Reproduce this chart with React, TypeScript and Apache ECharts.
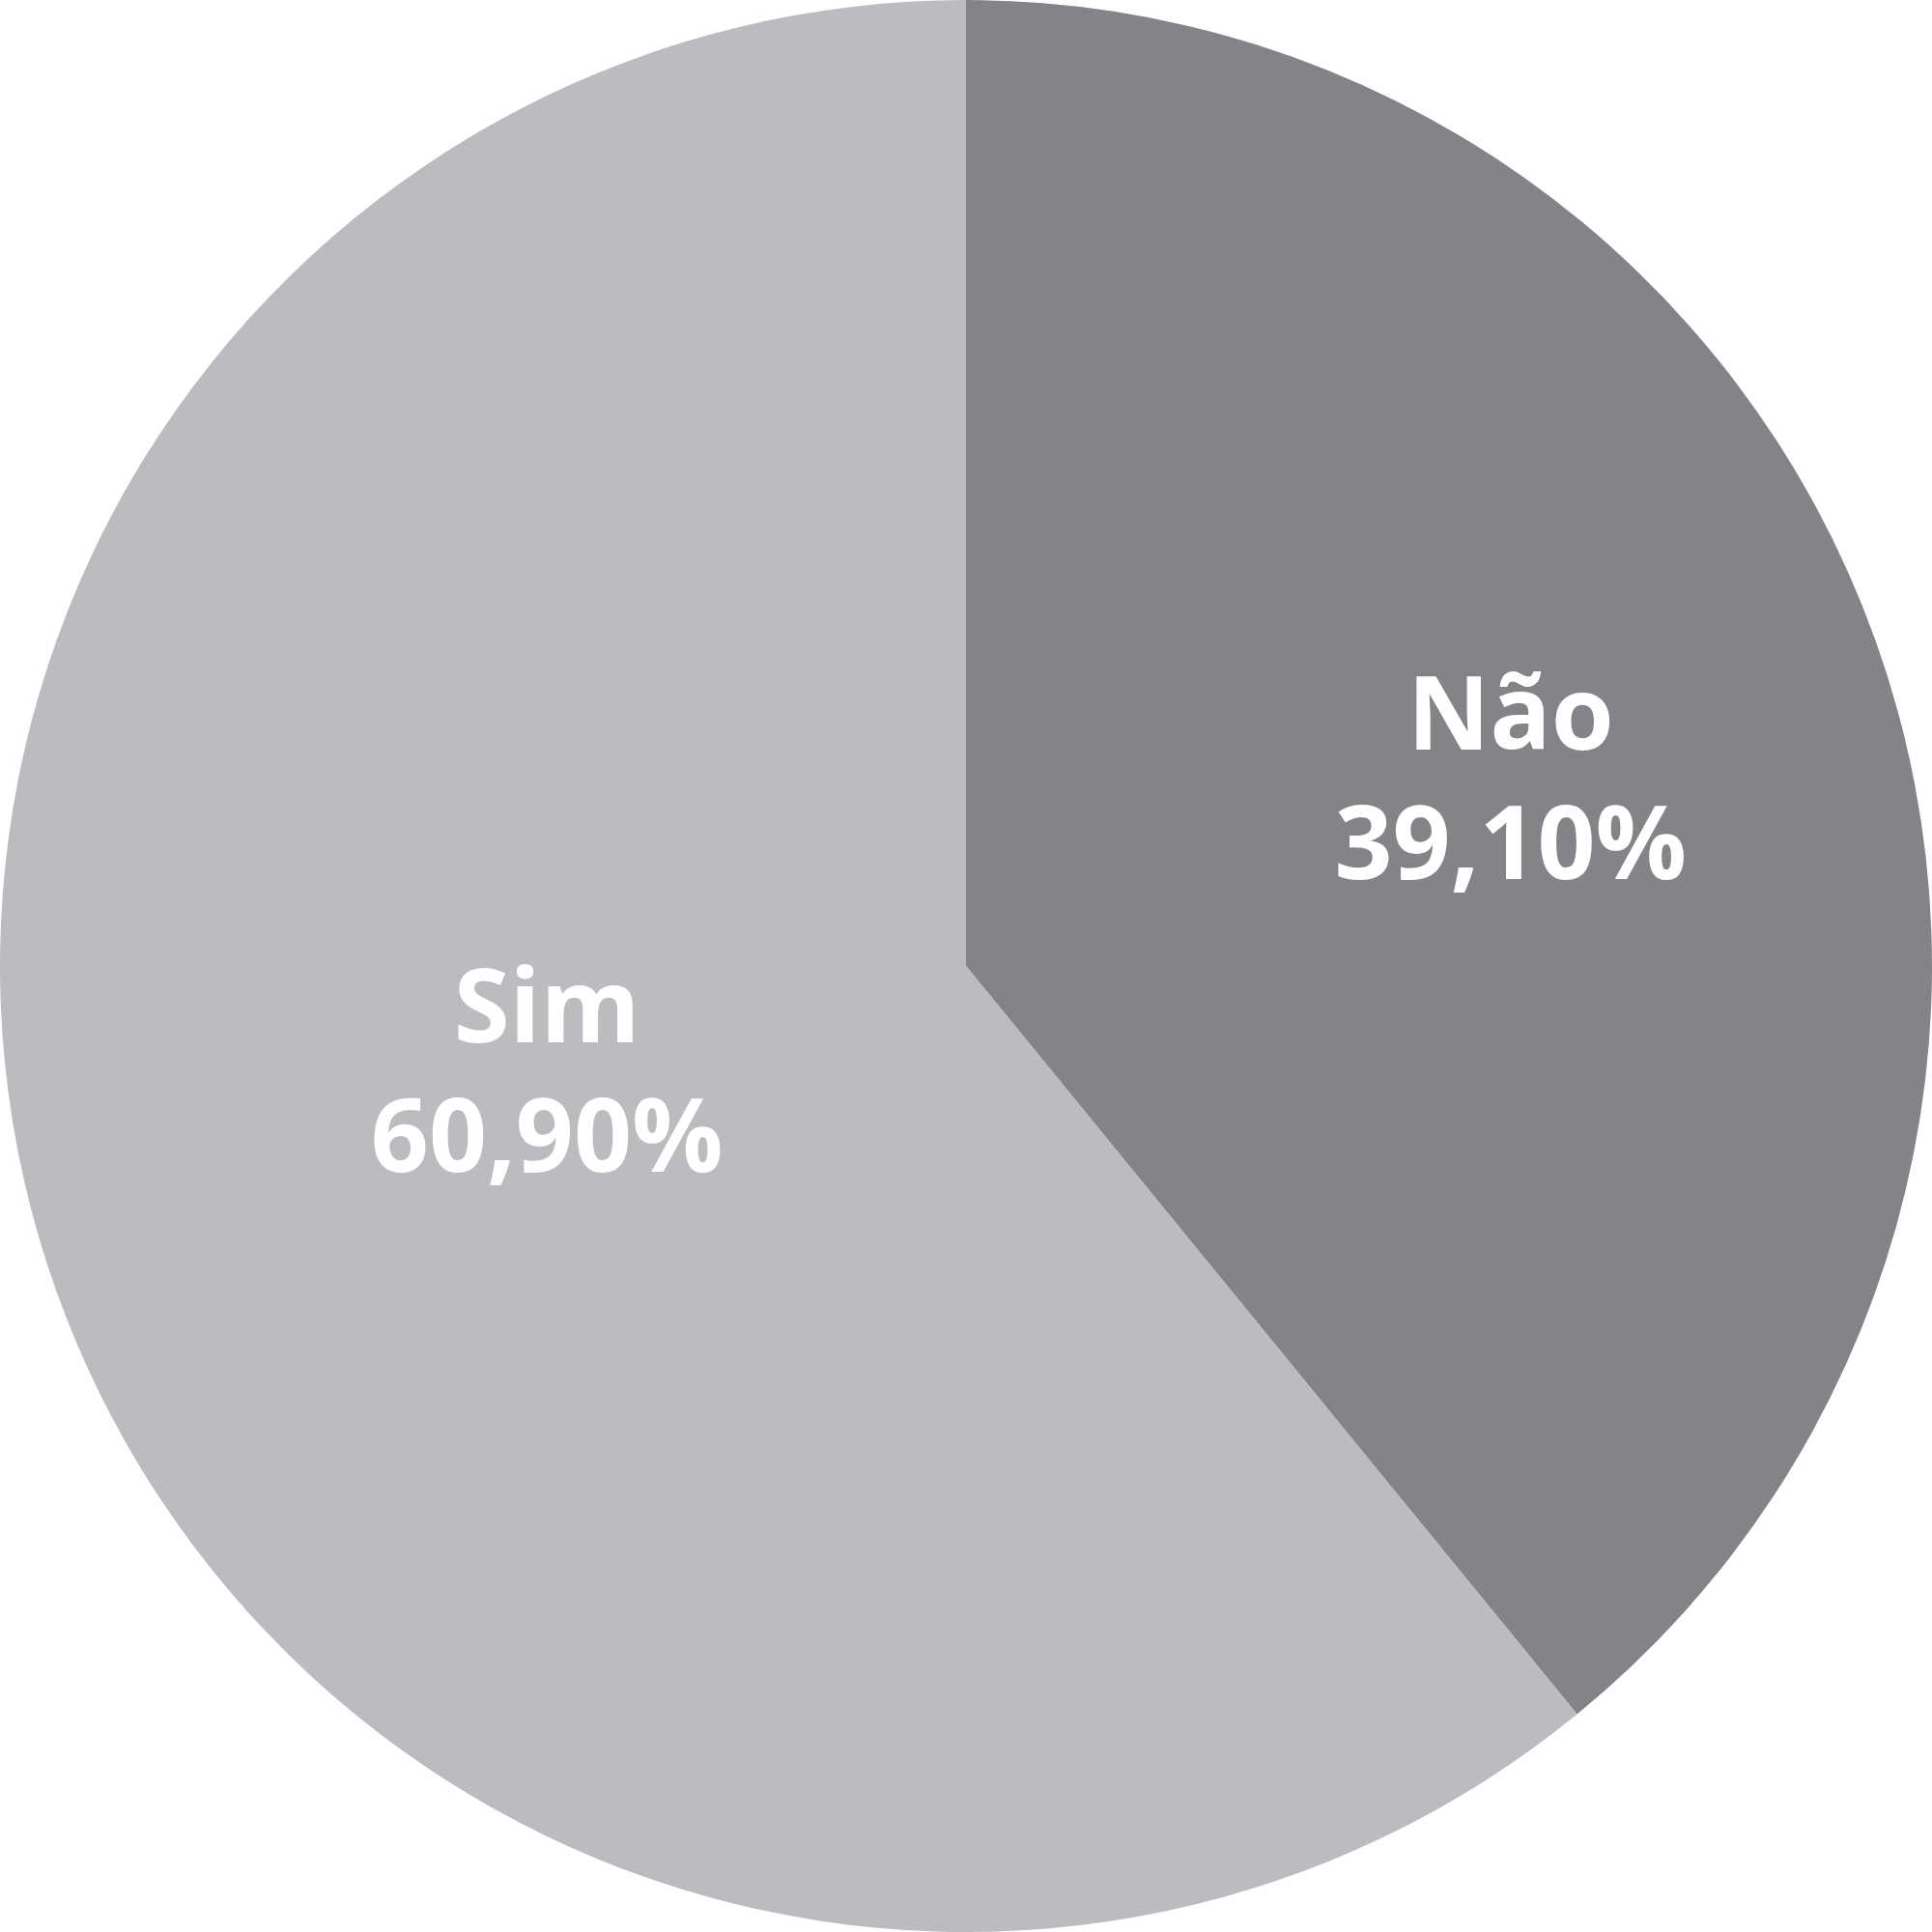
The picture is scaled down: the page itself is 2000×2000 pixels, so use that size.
import { useEffect, useRef } from 'react'
import * as echarts from 'echarts'

const categories = ['Não', 'Sim']
const values = [39.1, 60.9]
const colors = ['#838488', '#bbbcbf']
// nudges to place the labels where the original has them
const labelOffsets = [
  [90, -29],
  [40, -63]
]

const fmt = (v: number) => v.toFixed(2).replace('.', ',') + '%'

export default function App() {
  const chartRef = useRef<HTMLDivElement>(null)

  useEffect(() => {
    document.body.style.margin = '0'
    const chart = echarts.init(chartRef.current, null, { renderer: 'svg' })

    chart.setOption({
      animation: false,
      series: [
        {
          type: 'pie',
          center: ['50%', '50%'],
          radius: '100%',
          startAngle: 90,
          clockwise: true,
          silent: true,
          itemStyle: { borderWidth: 0 },
          label: {
            show: true,
            position: 'inside',
            color: '#ffffff',
            fontFamily: 'Open Sans',
            fontWeight: 'bold',
            fontSize: 105,
            lineHeight: 134,
            formatter: (p: any) => p.name + '\n' + fmt(p.value)
          },
          labelLine: { show: false },
          data: categories.map((name, i) => ({
            name,
            value: values[i],
            itemStyle: { color: colors[i] },
            label: { offset: labelOffsets[i] }
          }))
        }
      ]
    })

    return () => {
      chart.dispose()
    }
  }, [])

  return <div ref={chartRef} style={{ width: '2000px', height: '2000px' }} />
}
